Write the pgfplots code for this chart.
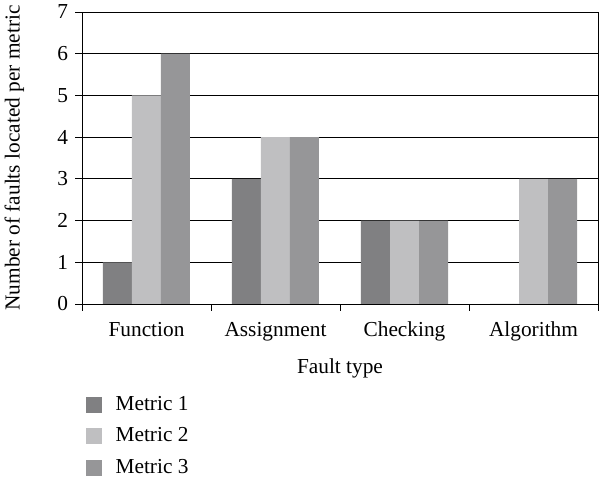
\documentclass[border=0pt]{standalone}
\usepackage{pgfplots}
\pgfplotsset{compat=1.18}
\usepackage{fontspec}
\setmainfont{Liberation Serif}
\definecolor{mA}{RGB}{128,128,130}
\definecolor{mB}{RGB}{191,191,193}
\definecolor{mC}{RGB}{150,150,152}
\begin{document}
\fontsize{16}{19}\selectfont
\begin{tikzpicture}
\path[use as bounding box] (-61.5pt,-129.75pt) rectangle (396.75pt,228pt);
\begin{axis}[name=ax, at={(0,0)}, anchor=south west,
  scale only axis,
  width=387pt, height=219pt,
  ymin=0, ymax=7, ytick={0,...,7},
  xmin=-0.5, xmax=3.5,
  xtick={0,1,2,3},
  xticklabels={Function,Assignment,Checking,Algorithm},
  minor xtick={-0.5,0.5,1.5,2.5,3.5},
  major x tick style={draw=none},
  minor tick length=5pt,
  x tick style={black, line width=0.6pt},
  y tick style={black, line width=0.6pt},
  major tick length=5pt,
  tick align=outside,
  xtick pos=bottom, ytick pos=left,
  ymajorgrids, grid style={black, line width=0.6pt},
  axis line style={black, line width=0.6pt},
  ybar=0pt, bar width=21.75pt,
  tick label style={font=\fontsize{16}{19}\selectfont},
  label style={font=\fontsize{16}{19}\selectfont},
  /pgf/number format/assume math mode=true,
  xticklabel style={yshift=-3pt},
  xlabel={Fault type},
  xlabel style={yshift=-2pt},
  ylabel={Number of faults located per metric},
  ylabel style={yshift=14pt},
  legend cell align=left,
  legend style={at={(0,-0.297)}, anchor=north west, draw=none, fill=none,
    font=\fontsize{16}{19}\selectfont, row sep=6.5pt,
    /tikz/every odd column/.append style={column sep=8pt}},
  legend image code/.code={\fill[#1] (0pt,-6pt) rectangle (12pt,6pt);},
]
\addplot[fill=mA, draw=none] coordinates {(0,1) (1,3) (2,2) (3,0)};
\addplot[fill=mB, draw=none] coordinates {(0,5) (1,4) (2,2) (3,3)};
\addplot[fill=mC, draw=none] coordinates {(0,6) (1,4) (2,2) (3,3)};
\legend{Metric 1, Metric 2, Metric 3}
\end{axis}
\end{tikzpicture}
\end{document}
